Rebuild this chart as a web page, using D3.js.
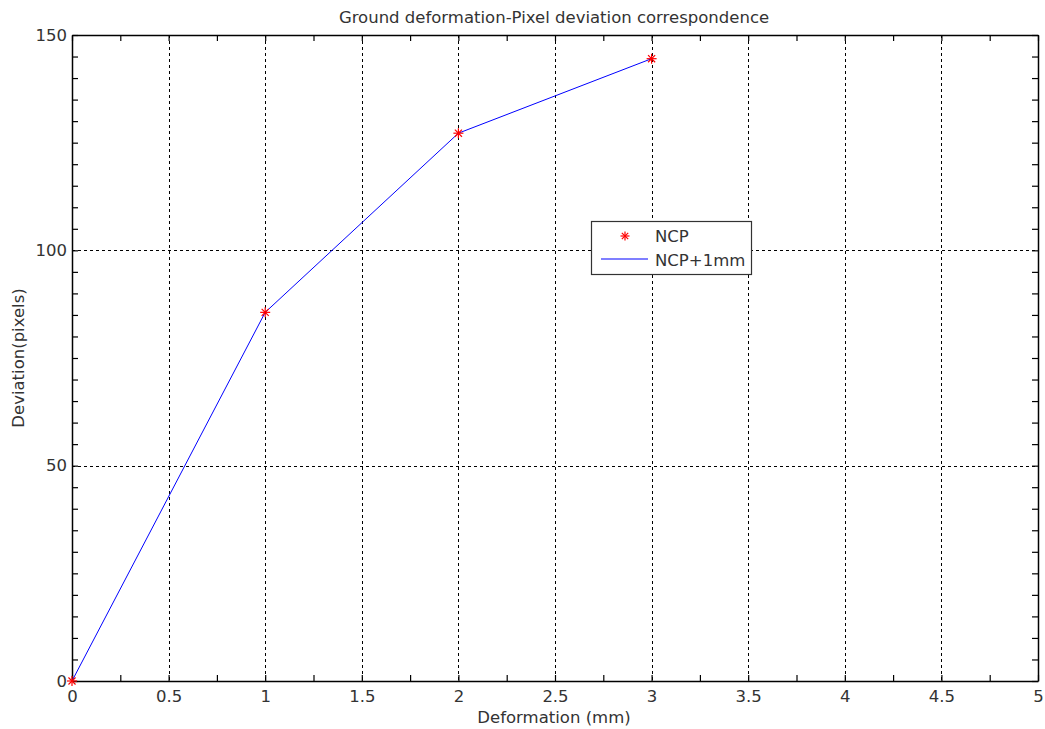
<!DOCTYPE html>
<html>
<head>
<meta charset="utf-8">
<script src="https://d3js.org/d3.v7.min.js"></script>
<style>
  body { margin: 0; background: #fff; }
  svg text { font-family: "DejaVu Sans", Verdana, sans-serif; fill: #333; }
</style>
</head>
<body>
<svg width="1045" height="729"></svg>
<script>
// data
const deformation = [0, 1, 2, 3];
const deviation = [0, 85.6, 127.2, 144.5];
const xTicks = [0, 0.5, 1, 1.5, 2, 2.5, 3, 3.5, 4, 4.5, 5];
const yTicks = [0, 50, 100, 150];
const seriesNames = ["NCP", "NCP+1mm"];

const svg = d3.select("svg");
const plotL = 72, plotT = 35, plotR = 1038, plotB = 681;
const fs = "16.5px";

const x = d3.scaleLinear().domain([0, 5]).range([plotL, plotR]);
const y = d3.scaleLinear().domain([0, 150]).range([plotB, plotT]);

// grid
const grid = svg.append("g").attr("stroke", "#000").attr("stroke-width", 1)
  .attr("stroke-dasharray", "3,3").attr("shape-rendering", "crispEdges");
grid.selectAll(".gx").data(xTicks.slice(1, -1)).enter().append("line")
  .attr("x1", d => Math.round(x(d)) + 0.5).attr("x2", d => Math.round(x(d)) + 0.5)
  .attr("y1", plotT).attr("y2", plotB);
grid.selectAll(".gy").data(yTicks.slice(1, -1)).enter().append("line")
  .attr("y1", d => Math.round(y(d)) + 0.5).attr("y2", d => Math.round(y(d)) + 0.5)
  .attr("x1", plotL).attr("x2", plotR);

// axes with inward ticks
const minorX = d3.range(0, 5.001, 0.25);
const minorY = d3.range(0, 150.1, 5);

svg.append("g").attr("transform", `translate(0,${plotB})`)
  .call(d3.axisBottom(x).tickValues(minorX).tickSizeInner(-6).tickSizeOuter(0)
    .tickFormat(d => xTicks.includes(d) ? d : ""))
  .call(g => g.selectAll("text").attr("y", 9).style("font-size", fs));
svg.append("g").attr("transform", `translate(0,${plotT})`)
  .call(d3.axisTop(x).tickValues(minorX).tickSizeInner(-6).tickSizeOuter(0).tickFormat(""));
svg.append("g").attr("transform", `translate(${plotL},0)`)
  .call(d3.axisLeft(y).tickValues(minorY).tickSizeInner(-6).tickSizeOuter(0)
    .tickFormat(d => yTicks.includes(d) ? d : ""))
  .call(g => g.selectAll("text").attr("x", -5).style("font-size", fs));
svg.append("g").attr("transform", `translate(${plotR},0)`)
  .call(d3.axisRight(y).tickValues(minorY).tickSizeInner(-6).tickSizeOuter(0).tickFormat(""));

svg.selectAll(".domain").attr("stroke", "#000").attr("stroke-width", 1.5);
svg.selectAll(".tick line").attr("stroke", "#000").attr("stroke-width", 1.2);
svg.selectAll(".tick text").attr("fill", "#333").style("font-family", "DejaVu Sans, Verdana, sans-serif");

// line
const pts = deformation.map((d, i) => [d, deviation[i]]);
svg.append("path").datum(pts)
  .attr("fill", "none").attr("stroke", "#0000ff").attr("stroke-width", 1)
  .attr("d", d3.line().x(d => x(d[0])).y(d => y(d[1])));

// asterisk markers
function star(g, cx, cy, r) {
  [0, 45, 90, 135].forEach(a => {
    const rad = a * Math.PI / 180;
    g.append("line")
      .attr("x1", cx - r * Math.cos(rad)).attr("y1", cy - r * Math.sin(rad))
      .attr("x2", cx + r * Math.cos(rad)).attr("y2", cy + r * Math.sin(rad))
      .attr("stroke", "#ff0000").attr("stroke-width", 1.2);
  });
}
const marks = svg.append("g");
pts.forEach(p => star(marks, x(p[0]), y(p[1]), 5));

// legend
const lg = svg.append("g");
lg.append("rect").attr("x", 591.5).attr("y", 221.5).attr("width", 160).attr("height", 53)
  .attr("fill", "#fff").attr("stroke", "#333").attr("stroke-width", 1.2);
star(lg, 625, 236, 4.5);
lg.append("line").attr("x1", 601).attr("x2", 648).attr("y1", 259).attr("y2", 259)
  .attr("stroke", "#0000ff").attr("stroke-width", 1.2);
lg.append("text").attr("x", 655).attr("y", 242).style("font-size", fs).text(seriesNames[0]);
lg.append("text").attr("x", 655).attr("y", 266).style("font-size", fs).text(seriesNames[1]);

// titles
svg.append("text").attr("x", 554).attr("y", 23).attr("text-anchor", "middle")
  .style("font-size", fs).text("Ground deformation-Pixel deviation correspondence");
svg.append("text").attr("x", 554).attr("y", 723).attr("text-anchor", "middle")
  .style("font-size", fs).text("Deformation (mm)");
svg.append("text").attr("transform", "translate(24,358) rotate(-90)").attr("text-anchor", "middle")
  .style("font-size", fs).text("Deviation(pixels)");
</script>
</body>
</html>
